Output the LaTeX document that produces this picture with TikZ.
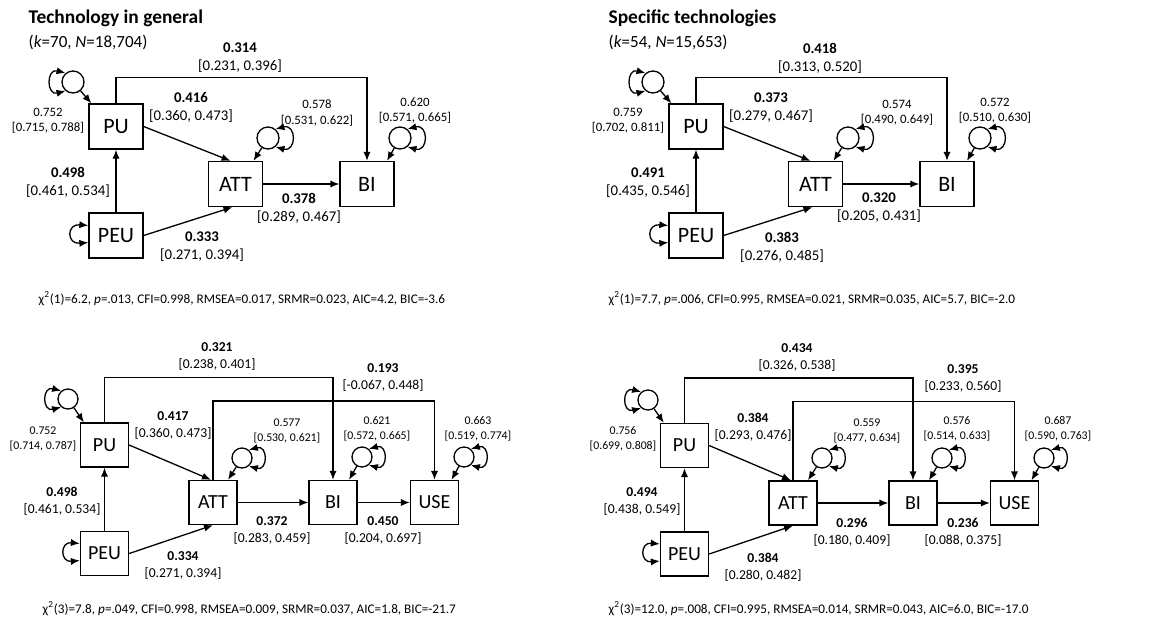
\documentclass[tikz,border=0pt]{standalone}
\usepackage{fontspec}
\setmainfont{Carlito}
\usetikzlibrary{arrows.meta}

\newcommand{\coef}[2]{\textbf{#1}\\{}[#2]}
\newcommand{\resvar}[2]{#1\\{}[#2]}

\begin{document}
\begin{tikzpicture}[x=0.5pt,y=-0.5pt,>={Latex[length=4.5pt,width=3.6pt]},line width=0.65pt,
   box/.style={draw,minimum width=27pt,minimum height=22.5pt,inner sep=0pt,font=\fontsize{11}{13}\selectfont},
   err/.style={circle,draw,minimum size=11pt,inner sep=0pt},
   cf/.style={align=center,font=\fontsize{7.4}{9}\selectfont},
   vr/.style={align=center,font=\fontsize{6.4}{7.6}\selectfont},
   gof/.style={anchor=west,inner sep=0pt,font=\fontsize{6.6}{8}\selectfont},
   ttl/.style={anchor=west,inner sep=0pt,font=\bfseries\fontsize{9.7}{12}\selectfont},
   subttl/.style={anchor=west,inner sep=0pt,font=\fontsize{8.5}{10}\selectfont}]
  \useasboundingbox (0,0) rectangle (1153,628);

  % technology in general, TAM
  \begin{scope}[name prefix=tl-]
  \node[ttl] (title) at (28,18) {Technology in general};
  \node[subttl] (sub) at (28,42) {(\textit{k}=70, \textit{N}=18,704)};
  \node[box] (pu) at (116,126.5) {PU};
  \node[box] (peu) at (116,235.5) {PEU};
  \node[box] (att) at (235.5,184) {ATT};
  \node[box] (bi) at (367,184) {BI};
  \node[err] (epu) at (73,82) {};
  \node[err] (eatt) at (268,138) {};
  \node[err] (ebi) at (400,138) {};
  \draw[->] (peu) -- (pu);
  \draw[->] (pu.east) -- ([xshift=-2.5pt]att.north);
  \draw[->] (peu.east) -- ([xshift=-1.5pt]att.south);
  \draw[->] (att) -- (bi);
  \draw[->] (pu.north) -- ++(0,-26) -| (bi.north);
  \draw[->] (epu) -- ([xshift=1.5pt]pu.north west);
  \draw[->] (eatt) -- ([xshift=9pt]att.north);
  \draw[->] (ebi) -- ([xshift=10pt]bi.north);
  \draw[<->] (epu.130) .. controls +(165:10pt) and +(195:10pt) .. (epu.230);
  \draw[<->] (eatt.50) .. controls +(15:11pt) and +(-15:11pt) .. (eatt.-50);
  \draw[<->] (ebi.50) .. controls +(15:11pt) and +(-15:11pt) .. (ebi.-50);
  \draw[<->] ([yshift=5pt]peu.west) .. controls +(-11pt,1pt) and +(-11pt,-1pt) .. ([yshift=-3.5pt]peu.west);
  \node[cf] (c-pubi) at (240,58) {\coef{0.314}{0.231, 0.396}};
  \node[cf] (c-puatt) at (191,107.5) {\coef{0.416}{0.360, 0.473}};
  \node[cf] (c-peupu) at (68,182.5) {\coef{0.498}{0.461, 0.534}};
  \node[cf] (c-attbi) at (299,208) {\coef{0.378}{0.289, 0.467}};
  \node[cf] (c-peuatt) at (202,247) {\coef{0.333}{0.271, 0.394}};
  \node[vr] (v-pu) at (48,120.5) {\resvar{0.752}{0.715, 0.788}};
  \node[vr] (v-att) at (317,113) {\resvar{0.578}{0.531, 0.622}};
  \node[vr] (v-bi) at (415,110.5) {\resvar{0.620}{0.571, 0.665}};
  \node[gof] (fit) at (38,299) {χ\textsuperscript{2}(1)=6.2, \textit{p}=.013, CFI=0.998, RMSEA=0.017, SRMR=0.023, AIC=4.2, BIC=-3.6};
  \end{scope}

  % specific technologies, TAM
  \begin{scope}[shift={(580,0)},name prefix=tr-]
  \node[ttl] (title) at (28,18) {Specific technologies};
  \node[subttl] (sub) at (28,42) {(\textit{k}=54, \textit{N}=15,653)};
  \node[box] (pu) at (116,126.5) {PU};
  \node[box] (peu) at (116,235.5) {PEU};
  \node[box] (att) at (235.5,184) {ATT};
  \node[box] (bi) at (367,184) {BI};
  \node[err] (epu) at (73,82) {};
  \node[err] (eatt) at (268,138) {};
  \node[err] (ebi) at (400,138) {};
  \draw[->] (peu) -- (pu);
  \draw[->] (pu.east) -- ([xshift=-2.5pt]att.north);
  \draw[->] (peu.east) -- ([xshift=-1.5pt]att.south);
  \draw[->] (att) -- (bi);
  \draw[->] (pu.north) -- ++(0,-26) -| (bi.north);
  \draw[->] (epu) -- ([xshift=1.5pt]pu.north west);
  \draw[->] (eatt) -- ([xshift=9pt]att.north);
  \draw[->] (ebi) -- ([xshift=10pt]bi.north);
  \draw[<->] (epu.130) .. controls +(165:10pt) and +(195:10pt) .. (epu.230);
  \draw[<->] (eatt.50) .. controls +(15:11pt) and +(-15:11pt) .. (eatt.-50);
  \draw[<->] (ebi.50) .. controls +(15:11pt) and +(-15:11pt) .. (ebi.-50);
  \draw[<->] ([yshift=5pt]peu.west) .. controls +(-11pt,1pt) and +(-11pt,-1pt) .. ([yshift=-3.5pt]peu.west);
  \node[cf] (c-pubi) at (240,58) {\coef{0.418}{0.313, 0.520}};
  \node[cf] (c-puatt) at (191,107.5) {\coef{0.373}{0.279, 0.467}};
  \node[cf] (c-peupu) at (68,182.5) {\coef{0.491}{0.435, 0.546}};
  \node[cf] (c-attbi) at (299,208) {\coef{0.320}{0.205, 0.431}};
  \node[cf] (c-peuatt) at (202,247) {\coef{0.383}{0.276, 0.485}};
  \node[vr] (v-pu) at (48,120.5) {\resvar{0.759}{0.702, 0.811}};
  \node[vr] (v-att) at (317,113) {\resvar{0.574}{0.490, 0.649}};
  \node[vr] (v-bi) at (415,110.5) {\resvar{0.572}{0.510, 0.630}};
  \node[gof] (fit) at (28,299) {χ\textsuperscript{2}(1)=7.7, \textit{p}=.006, CFI=0.995, RMSEA=0.021, SRMR=0.035, AIC=5.7, BIC=-2.0};
  \end{scope}

  % technology in general, with USE
  \begin{scope}[name prefix=bl-,box/.append style={minimum width=24pt,minimum height=22pt,font=\fontsize{10}{12}\selectfont},
     err/.append style={minimum size=10pt},cf/.append style={font=\fontsize{6.8}{8.5}\selectfont},
     vr/.append style={font=\fontsize{5.9}{7.5}\selectfont}]
  \node[box] (pu) at (104.5,445) {PU};
  \node[box] (peu) at (104.5,553.5) {PEU};
  \node[box] (att) at (213,502.5) {ATT};
  \node[box] (bi) at (333,502.5) {BI};
  \node[box] (use) at (434.5,502.5) {USE};
  \node[err] (epu) at (68,399) {};
  \node[err] (eatt) at (242,458) {};
  \node[err] (ebi) at (362,457) {};
  \node[err] (euse) at (464,457) {};
  \draw[->] (peu) -- (pu);
  \draw[->] (pu.east) -- ([xshift=-1pt]att.north);
  \draw[->] (peu.east) -- (att.south);
  \draw[->] (att) -- (bi);
  \draw[->] (bi) -- (use);
  \draw[->] (pu.north) -- ++(0,-45) -| (bi.north);
  \draw[->] (att.north) -- ++(0,-79) -| (use.north);
  \draw[->] (epu) -- ([xshift=2pt]pu.north west);
  \draw[->] (eatt) -- ([xshift=7.5pt]att.north);
  \draw[->] (ebi) -- ([xshift=8pt]bi.north);
  \draw[->] (euse) -- ([xshift=8.5pt]use.north);
  \draw[<->] (epu.130) .. controls +(165:10pt) and +(195:10pt) .. (epu.230);
  \foreach \e in {eatt,ebi,euse}
    \draw[<->] (\e.50) .. controls +(15:10pt) and +(-15:10pt) .. (\e.-50);
  \draw[<->] ([yshift=5pt]peu.west) .. controls +(-10pt,1pt) and +(-10pt,-1pt) .. ([yshift=-3.5pt]peu.west);
  \node[cf] (c-pubi) at (217,356.5) {\coef{0.321}{0.238, 0.401}};
  \node[cf] (c-attuse) at (383,377.5) {\coef{0.193}{-0.067, 0.448}};
  \node[cf] (c-puatt) at (173,425.5) {\coef{0.417}{0.360, 0.473}};
  \node[cf] (c-peupu) at (62,501) {\coef{0.498}{0.461, 0.534}};
  \node[cf] (c-attbi) at (272,530.5) {\coef{0.372}{0.283, 0.459}};
  \node[cf] (c-biuse) at (383,530.5) {\coef{0.450}{0.204, 0.697}};
  \node[cf] (c-peuatt) at (183,565.5) {\coef{0.334}{0.271, 0.394}};
  \node[vr] (v-pu) at (43,438.5) {\resvar{0.752}{0.714, 0.787}};
  \node[vr] (v-att) at (287,431) {\resvar{0.577}{0.530, 0.621}};
  \node[vr] (v-bi) at (377,429) {\resvar{0.621}{0.572, 0.665}};
  \node[vr] (v-use) at (478,429) {\resvar{0.663}{0.519, 0.774}};
  \node[gof] (fit) at (42,609) {χ\textsuperscript{2}(3)=7.8, \textit{p}=.049, CFI=0.998, RMSEA=0.009, SRMR=0.037, AIC=1.8, BIC=-21.7};
  \end{scope}

  % specific technologies, with USE
  \begin{scope}[shift={(580,0)},name prefix=br-,box/.append style={minimum width=24pt,minimum height=22pt,font=\fontsize{10}{12}\selectfont},
     err/.append style={minimum size=10pt},cf/.append style={font=\fontsize{6.8}{8.5}\selectfont},
     vr/.append style={font=\fontsize{5.9}{7.5}\selectfont}]
  \node[box] (pu) at (104.5,445.5) {PU};
  \node[box] (peu) at (104.5,554) {PEU};
  \node[box] (att) at (213,503) {ATT};
  \node[box] (bi) at (333,503) {BI};
  \node[box] (use) at (434.5,503) {USE};
  \node[err] (epu) at (68,400) {};
  \node[err] (eatt) at (242,458) {};
  \node[err] (ebi) at (362,458) {};
  \node[err] (euse) at (464,458) {};
  \draw[->] (peu) -- (pu);
  \draw[->] (pu.east) -- ([xshift=-1pt]att.north);
  \draw[->] (peu.east) -- (att.south);
  \draw[->] (att) -- (bi);
  \draw[->] (bi) -- (use);
  \draw[->] (pu.north) -- ++(0,-45) -| (bi.north);
  \draw[->] (att.north) -- ++(0,-79) -| (use.north);
  \draw[->] (epu) -- ([xshift=2pt]pu.north west);
  \draw[->] (eatt) -- ([xshift=7.5pt]att.north);
  \draw[->] (ebi) -- ([xshift=8pt]bi.north);
  \draw[->] (euse) -- ([xshift=8.5pt]use.north);
  \draw[<->] (epu.130) .. controls +(165:10pt) and +(195:10pt) .. (epu.230);
  \foreach \e in {eatt,ebi,euse}
    \draw[<->] (\e.50) .. controls +(15:10pt) and +(-15:10pt) .. (\e.-50);
  \draw[<->] ([yshift=5pt]peu.west) .. controls +(-10pt,1pt) and +(-10pt,-1pt) .. ([yshift=-3.5pt]peu.west);
  \node[cf] (c-pubi) at (217,357) {\coef{0.434}{0.326, 0.538}};
  \node[cf] (c-attuse) at (383,378) {\coef{0.395}{0.233, 0.560}};
  \node[cf] (c-puatt) at (173,427) {\coef{0.384}{0.293, 0.476}};
  \node[cf] (c-peupu) at (62,501.5) {\coef{0.494}{0.438, 0.549}};
  \node[cf] (c-attbi) at (272,532) {\coef{0.296}{0.180, 0.409}};
  \node[cf] (c-biuse) at (383,532) {\coef{0.236}{0.088, 0.375}};
  \node[cf] (c-peuatt) at (183,567) {\coef{0.384}{0.280, 0.482}};
  \node[vr] (v-pu) at (43,438.5) {\resvar{0.756}{0.699, 0.808}};
  \node[vr] (v-att) at (287,431) {\resvar{0.559}{0.477, 0.634}};
  \node[vr] (v-bi) at (377,429) {\resvar{0.576}{0.514, 0.633}};
  \node[vr] (v-use) at (478,429) {\resvar{0.687}{0.590, 0.763}};
  \node[gof] (fit) at (28,609) {χ\textsuperscript{2}(3)=12.0, \textit{p}=.008, CFI=0.995, RMSEA=0.014, SRMR=0.043, AIC=6.0, BIC=-17.0};
  \end{scope}
\end{tikzpicture}
\end{document}
